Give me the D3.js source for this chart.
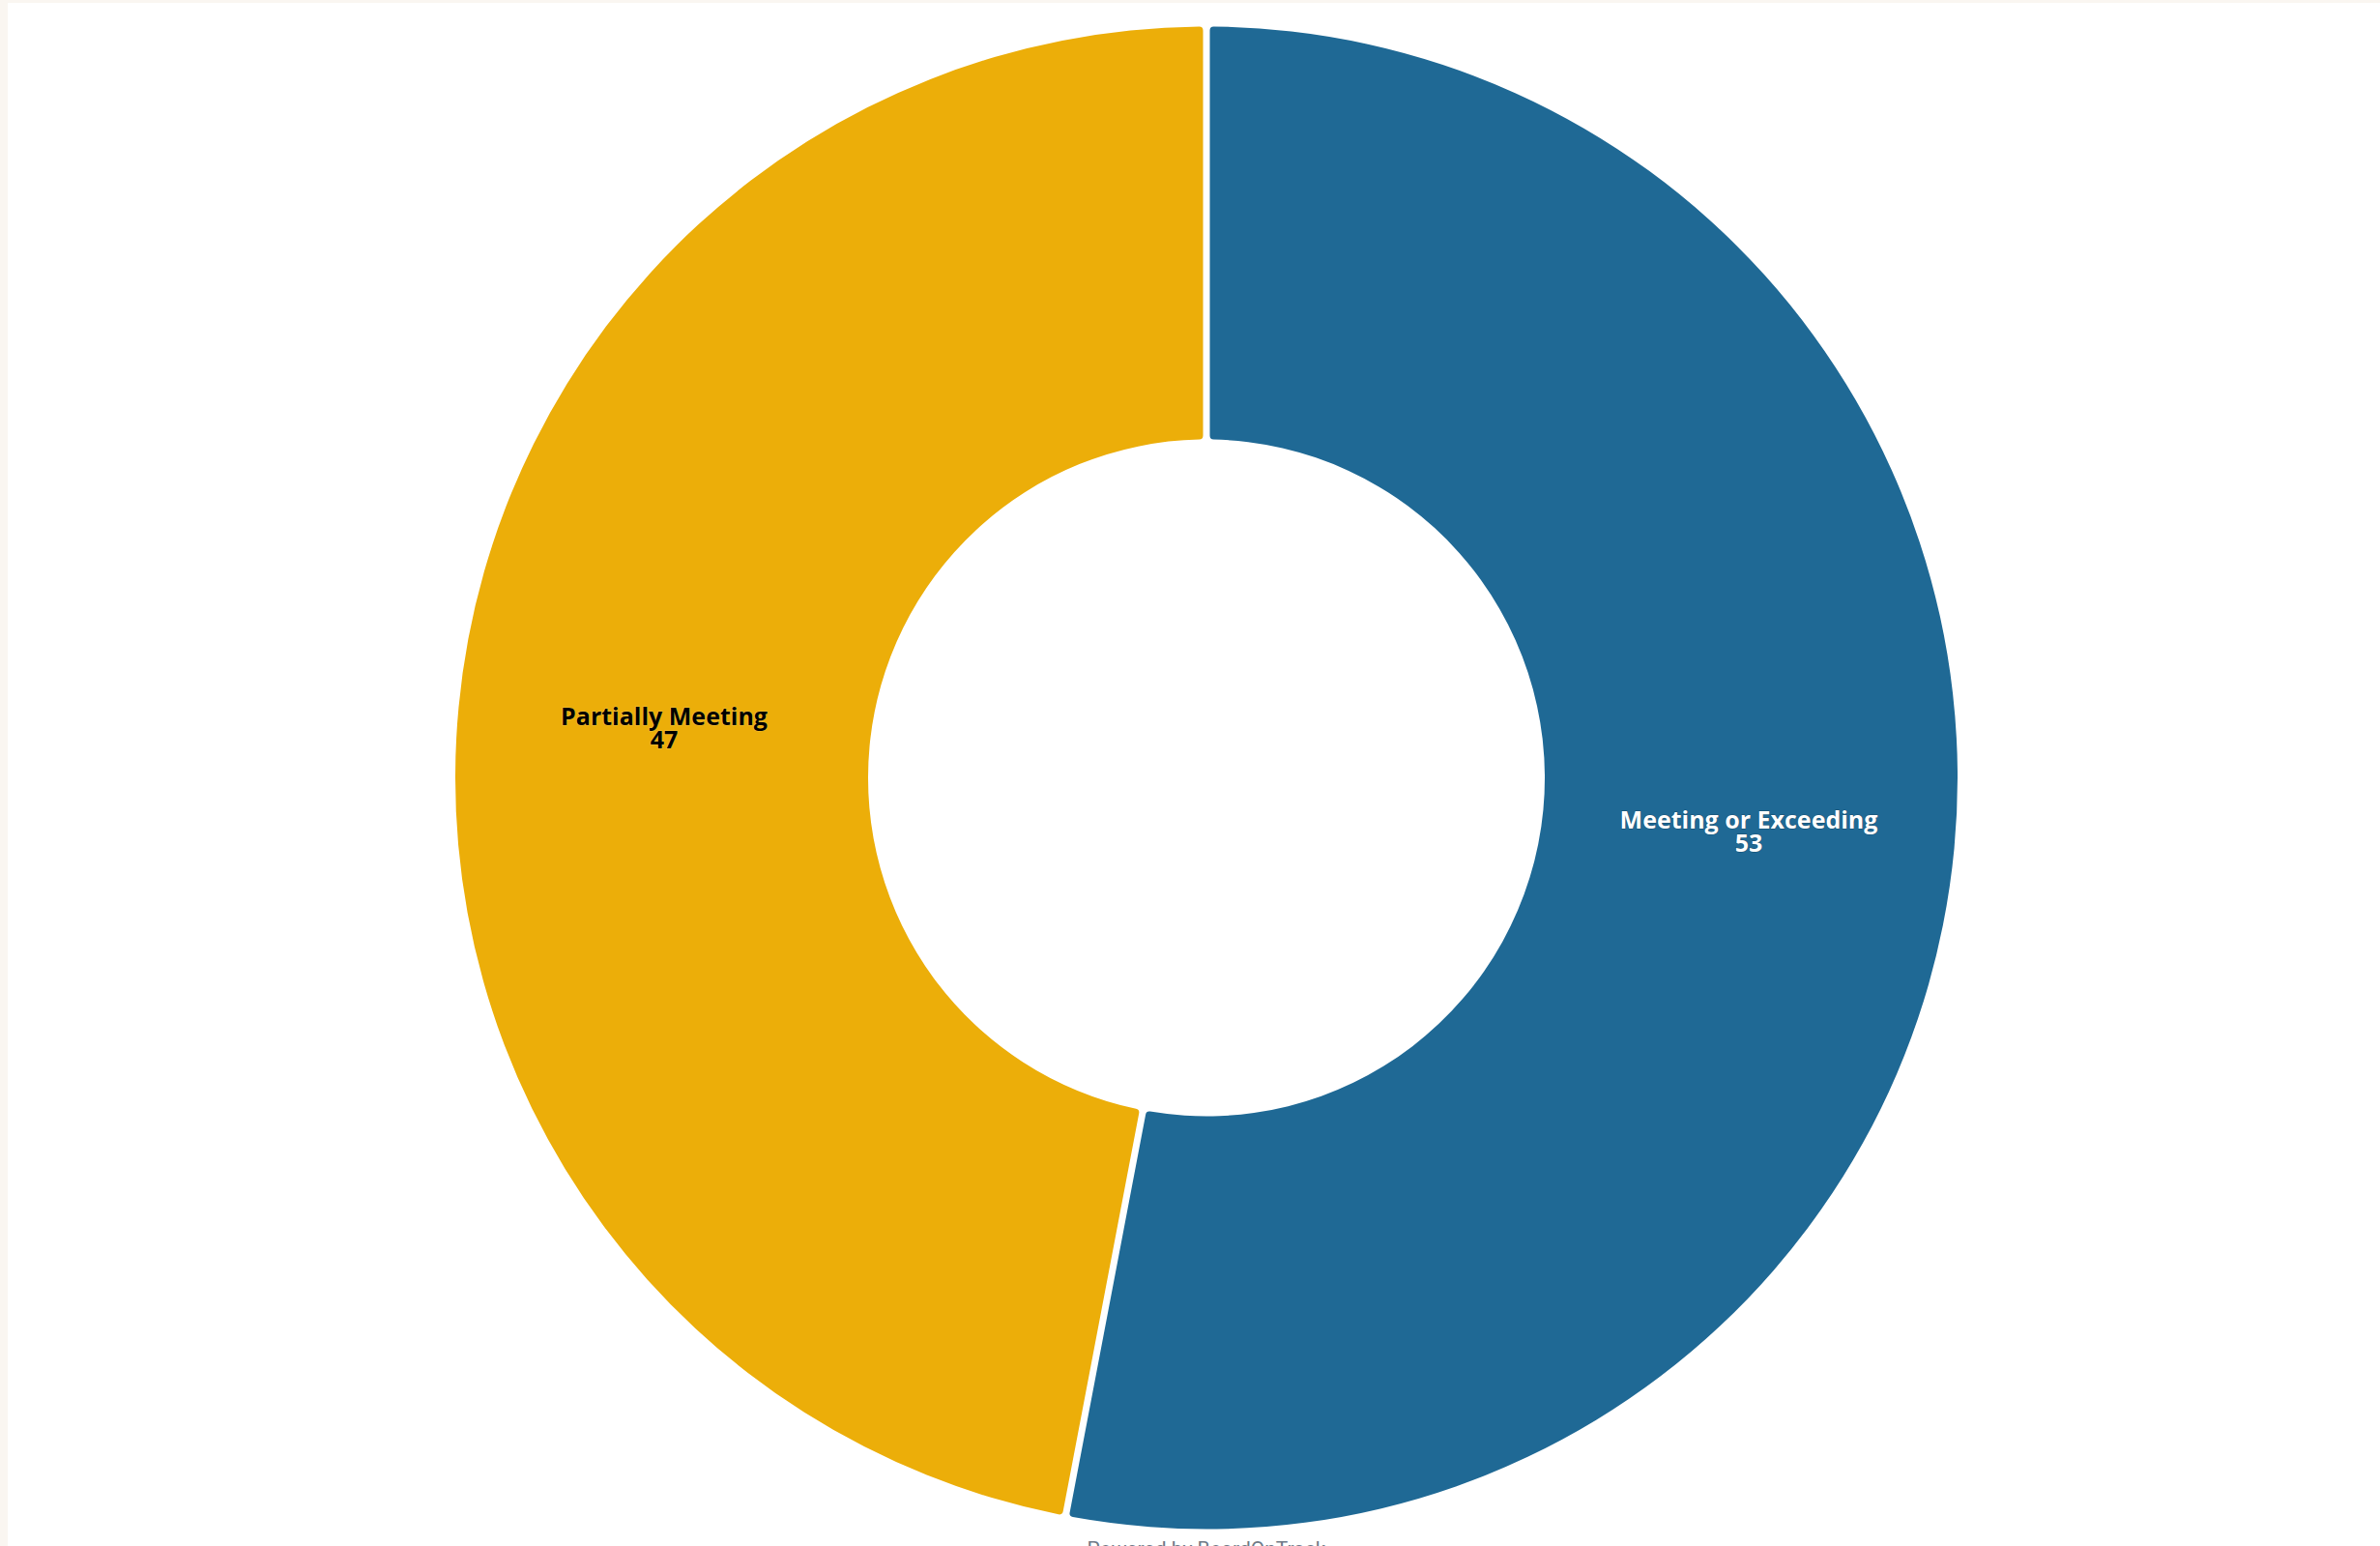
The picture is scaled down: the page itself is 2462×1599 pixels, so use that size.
<!DOCTYPE html>
<html>
<head>
<meta charset="utf-8">
<script src="https://cdn.jsdelivr.net/npm/d3@7"></script>
<style>
  html, body { margin: 0; padding: 0; background: #faf6f1; overflow: hidden; }
  svg { display: block; }
</style>
</head>
<body>
<svg id="chart" width="2462" height="1599"></svg>
<script>
// Goal attainment split
const categories = ["Meeting or Exceeding", "Partially Meeting"];
const values = [53, 47];
const colors = ["#1f6995", "#ecae09"];
const labelColors = ["#ffffff", "#000000"];
const footerText = "Powered by BoardOnTrack";

const W = 2462, H = 1599;
const cx = 1248, cy = 804.5;
const outerR = 777, innerR = 350;

const svg = d3.select("#chart");

// white panel over the cream page
svg.append("rect")
  .attr("x", 8).attr("y", 3)
  .attr("width", W - 8).attr("height", H - 3)
  .attr("fill", "#ffffff");

const data = categories.map((c, i) => ({ name: c, value: values[i], color: colors[i], text: labelColors[i] }));

const pie = d3.pie()
  .sort(null)
  .value(d => d.value)
  .startAngle(0)
  .endAngle(2 * Math.PI);

const padR = Math.sqrt(innerR * innerR + outerR * outerR);
const arc = d3.arc()
  .innerRadius(innerR)
  .outerRadius(outerR)
  .padRadius(padR)
  .padAngle(7 / padR)
  .cornerRadius(4);

const labelArc = d3.arc()
  .innerRadius(innerR)
  .outerRadius(outerR);

const g = svg.append("g").attr("transform", `translate(${cx},${cy})`);
const arcs = pie(data);

g.selectAll("path.slice")
  .data(arcs)
  .join("path")
  .attr("class", "slice")
  .attr("d", arc)
  .attr("fill", d => d.data.color);

const labels = g.selectAll("text.lbl")
  .data(arcs)
  .join("text")
  .attr("class", "lbl")
  .attr("text-anchor", "middle")
  .attr("font-family", "'Open Sans', sans-serif")
  .attr("font-weight", "bold")
  .attr("font-size", 25)
  .attr("fill", d => d.data.text)
  .attr("stroke", d => d.data.text === "#ffffff" ? "rgba(0,0,0,0.3)" : "rgba(255,255,255,0.25)")
  .attr("stroke-width", 1)
  .attr("paint-order", "stroke")
  .attr("transform", d => {
    const [x, y] = labelArc.centroid(d);
    return `translate(${x},${y})`;
  });

labels.append("tspan")
  .attr("x", 0).attr("dy", -1)
  .text(d => d.data.name);
labels.append("tspan")
  .attr("x", 0).attr("dy", 24)
  .text(d => d.data.value);

svg.append("text")
  .attr("x", cx).attr("y", 1609)
  .attr("text-anchor", "middle")
  .attr("font-family", "Roboto, 'Open Sans', sans-serif")
  .attr("font-size", 21)
  .attr("fill", "#6f7a87")
  .text(footerText);
</script>
</body>
</html>
